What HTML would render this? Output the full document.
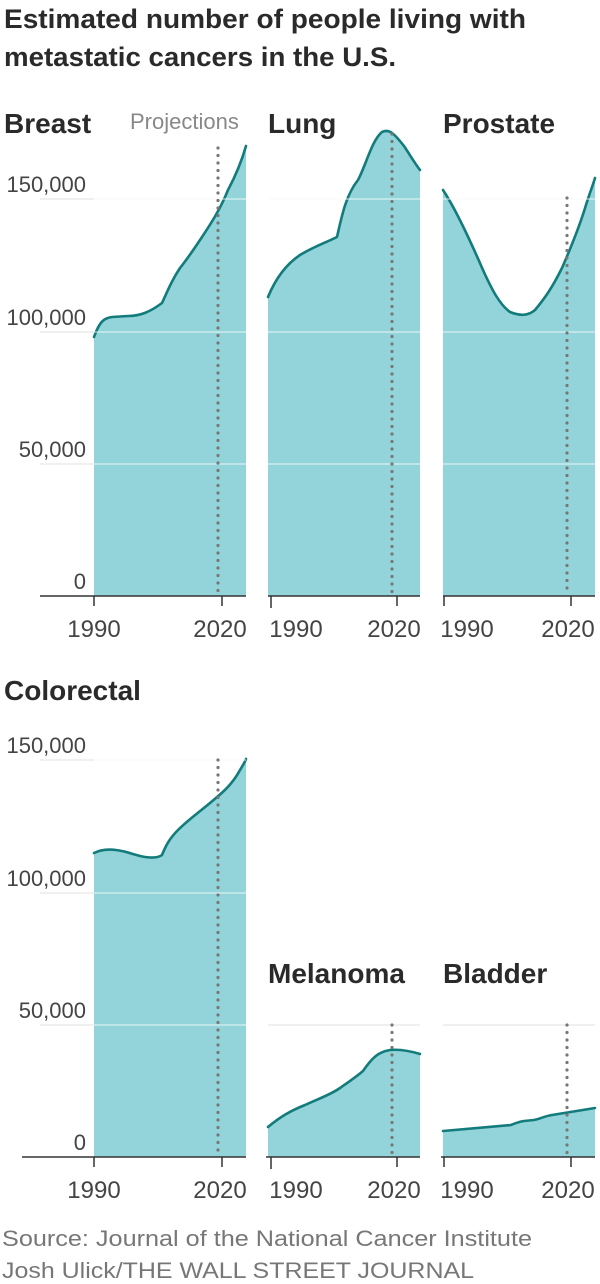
<!DOCTYPE html>
<html><head><meta charset="utf-8"><style>
html,body{margin:0;padding:0;background:#fff;}
svg{display:block;}
.t{font-family:"Liberation Sans",sans-serif;font-weight:bold;fill:#2a2a2a;}
.l{font-family:"Liberation Sans Narrow","Liberation Sans",sans-serif;fill:#444;font-size:22px;}
.x{font-size:24px;}
.g{stroke:#e2e2e2;stroke-width:1;}
.gw{stroke:#fff;stroke-width:1;opacity:.8;}
.f{fill:#92d4d9;}
.c{fill:none;stroke:#137b7b;stroke-width:2.6;stroke-linejoin:round;stroke-linecap:round;}
.d{stroke:#777;stroke-width:3.2;stroke-dasharray:0 7.5;stroke-linecap:round;}
.a{stroke:#333;stroke-width:1.5;}
</style></head><body>
<svg width="600" height="1284" viewBox="0 0 600 1284">
<text class="t" x="4" y="28" font-size="27" textLength="522" lengthAdjust="spacingAndGlyphs">Estimated number of people living with</text>
<text class="t" x="4" y="66" font-size="27" textLength="392" lengthAdjust="spacingAndGlyphs">metastatic cancers in the U.S.</text>

<text class="t" x="4" y="133" font-size="28">Breast</text>
<text class="l" x="130" y="129" font-size="21" style="fill:#888">Projections</text>
<text class="t" x="268" y="133" font-size="28">Lung</text>
<text class="t" x="443" y="133" font-size="28">Prostate</text>

<line class="g" x1="40" y1="199" x2="246" y2="199"/><line class="g" x1="268" y1="199" x2="420" y2="199"/><line class="g" x1="443" y1="199" x2="595" y2="199"/>
<line class="g" x1="40" y1="332" x2="246" y2="332"/><line class="g" x1="268" y1="332" x2="420" y2="332"/><line class="g" x1="443" y1="332" x2="595" y2="332"/>
<line class="g" x1="40" y1="464" x2="246" y2="464"/><line class="g" x1="268" y1="464" x2="420" y2="464"/><line class="g" x1="443" y1="464" x2="595" y2="464"/>

<text class="l" x="86" y="192" text-anchor="end">150,000</text>
<text class="l" x="86" y="325" text-anchor="end">100,000</text>
<text class="l" x="86" y="457" text-anchor="end">50,000</text>
<text class="l" x="86" y="589" text-anchor="end">0</text>

<path class="f" d="M94,337 C100,320 105,318 112,317 L128,316 C140,316 150,312 162,303 C168,290 172,280 180,268 C188,258 192,252 200,240 C210,225 220,210 228,190 C236,175 242,160 246,146 L246,596 L94,596 Z"/>
<path class="c" d="M94,337 C100,320 105,318 112,317 L128,316 C140,316 150,312 162,303 C168,290 172,280 180,268 C188,258 192,252 200,240 C210,225 220,210 228,190 C236,175 242,160 246,146"/>
<path class="f" d="M268,297 C275,280 285,265 300,255 C315,246 325,243 337,237 C342,215 346,195 358,180 C366,165 372,140 382,132 C390,128 396,136 404,146 C410,155 414,162 420,170 L420,596 L268,596 Z"/>
<path class="c" d="M268,297 C275,280 285,265 300,255 C315,246 325,243 337,237 C342,215 346,195 358,180 C366,165 372,140 382,132 C390,128 396,136 404,146 C410,155 414,162 420,170"/>
<path class="f" d="M443,190 C455,208 470,240 483,270 C492,290 500,305 510,312 C520,316 528,316 535,310 C545,298 552,288 562,268 C572,245 580,225 586,205 C590,192 593,185 595,178 L595,596 L443,596 Z"/>
<path class="c" d="M443,190 C455,208 470,240 483,270 C492,290 500,305 510,312 C520,316 528,316 535,310 C545,298 552,288 562,268 C572,245 580,225 586,205 C590,192 593,185 595,178"/>

<line class="gw" x1="94" y1="199" x2="246" y2="199"/><line class="gw" x1="268" y1="199" x2="420" y2="199"/><line class="gw" x1="443" y1="199" x2="595" y2="199"/>
<line class="gw" x1="94" y1="332" x2="246" y2="332"/><line class="gw" x1="268" y1="332" x2="420" y2="332"/><line class="gw" x1="443" y1="332" x2="595" y2="332"/>
<line class="gw" x1="94" y1="464" x2="246" y2="464"/><line class="gw" x1="268" y1="464" x2="420" y2="464"/><line class="gw" x1="443" y1="464" x2="595" y2="464"/>

<line class="d" x1="218" y1="148" x2="218" y2="594"/>
<line class="d" x1="392" y1="134" x2="392" y2="594"/>
<line class="d" x1="567" y1="198" x2="567" y2="594"/>

<line class="a" x1="40" y1="596" x2="246" y2="596"/><line class="a" x1="268" y1="596" x2="420" y2="596"/><line class="a" x1="443" y1="596" x2="595" y2="596"/>
<line class="a" x1="94" y1="596" x2="94" y2="606"/><line class="a" x1="222" y1="596" x2="222" y2="606"/>
<line class="a" x1="271" y1="596" x2="271" y2="608"/><line class="a" x1="397" y1="596" x2="397" y2="606"/>
<line class="a" x1="444" y1="596" x2="444" y2="606"/><line class="a" x1="571" y1="596" x2="571" y2="606"/>
<text class="l x" x="94" y="637" text-anchor="middle">1990</text><text class="l x" x="220" y="637" text-anchor="middle">2020</text>
<text class="l x" x="296" y="637" text-anchor="middle">1990</text><text class="l x" x="394" y="637" text-anchor="middle">2020</text>
<text class="l x" x="467" y="637" text-anchor="middle">1990</text><text class="l x" x="568" y="637" text-anchor="middle">2020</text>

<text class="t" x="4" y="700" font-size="28">Colorectal</text>
<text class="t" x="268" y="983" font-size="28">Melanoma</text>
<text class="t" x="443" y="983" font-size="28">Bladder</text>

<line class="g" x1="40" y1="760" x2="246" y2="760"/>
<line class="g" x1="40" y1="893" x2="246" y2="893"/>
<line class="g" x1="40" y1="1025" x2="246" y2="1025"/><line class="g" x1="268" y1="1025" x2="420" y2="1025"/><line class="g" x1="443" y1="1025" x2="595" y2="1025"/>
<text class="l" x="86" y="753" text-anchor="end">150,000</text>
<text class="l" x="86" y="886" text-anchor="end">100,000</text>
<text class="l" x="86" y="1018" text-anchor="end">50,000</text>
<text class="l" x="86" y="1150" text-anchor="end">0</text>

<path class="f" d="M94,853 C100,850 108,849 116,850 C126,851 134,855 145,857 C152,858 158,858 162,855 C166,845 170,838 178,830 C188,820 198,813 210,803 C222,793 232,785 240,770 C243,765 245,762 246,759 L246,1157 L94,1157 Z"/>
<path class="c" d="M94,853 C100,850 108,849 116,850 C126,851 134,855 145,857 C152,858 158,858 162,855 C166,845 170,838 178,830 C188,820 198,813 210,803 C222,793 232,785 240,770 C243,765 245,762 246,759"/>
<path class="f" d="M268,1127 C280,1117 290,1111 305,1105 C320,1098 330,1095 340,1088 C350,1081 356,1077 363,1071 C372,1058 378,1052 390,1050 C400,1049 410,1051 420,1054 L420,1157 L268,1157 Z"/>
<path class="c" d="M268,1127 C280,1117 290,1111 305,1105 C320,1098 330,1095 340,1088 C350,1081 356,1077 363,1071 C372,1058 378,1052 390,1050 C400,1049 410,1051 420,1054"/>
<path class="f" d="M443,1131 L511,1125 C516,1123 518,1122 524,1121 L534,1120 C540,1119 545,1116 552,1115 L595,1108 L595,1157 L443,1157 Z"/>
<path class="c" d="M443,1131 L511,1125 C516,1123 518,1122 524,1121 L534,1120 C540,1119 545,1116 552,1115 L595,1108"/>

<line class="gw" x1="94" y1="760" x2="246" y2="760"/><line class="gw" x1="94" y1="893" x2="246" y2="893"/><line class="gw" x1="94" y1="1025" x2="246" y2="1025"/>

<line class="d" x1="218" y1="760" x2="218" y2="1155"/>
<line class="d" x1="392" y1="1025" x2="392" y2="1155"/>
<line class="d" x1="567" y1="1025" x2="567" y2="1155"/>

<line class="a" x1="22" y1="1157" x2="246" y2="1157"/><line class="a" x1="266" y1="1157" x2="420" y2="1157"/><line class="a" x1="441" y1="1157" x2="595" y2="1157"/>
<line class="a" x1="94" y1="1157" x2="94" y2="1167"/><line class="a" x1="222" y1="1157" x2="222" y2="1167"/>
<line class="a" x1="271" y1="1157" x2="271" y2="1169"/><line class="a" x1="397" y1="1157" x2="397" y2="1167"/>
<line class="a" x1="444" y1="1157" x2="444" y2="1167"/><line class="a" x1="571" y1="1157" x2="571" y2="1167"/>
<text class="l x" x="94" y="1198" text-anchor="middle">1990</text><text class="l x" x="220" y="1198" text-anchor="middle">2020</text>
<text class="l x" x="296" y="1198" text-anchor="middle">1990</text><text class="l x" x="394" y="1198" text-anchor="middle">2020</text>
<text class="l x" x="467" y="1198" text-anchor="middle">1990</text><text class="l x" x="568" y="1198" text-anchor="middle">2020</text>

<text class="l" x="2" y="1246" style="fill:#777" font-size="23" textLength="530" lengthAdjust="spacingAndGlyphs">Source: Journal of the National Cancer Institute</text>
<text class="l" x="2" y="1278" style="fill:#777" font-size="23" textLength="472" lengthAdjust="spacingAndGlyphs">Josh Ulick/THE WALL STREET JOURNAL</text>
</svg>
</body></html>
